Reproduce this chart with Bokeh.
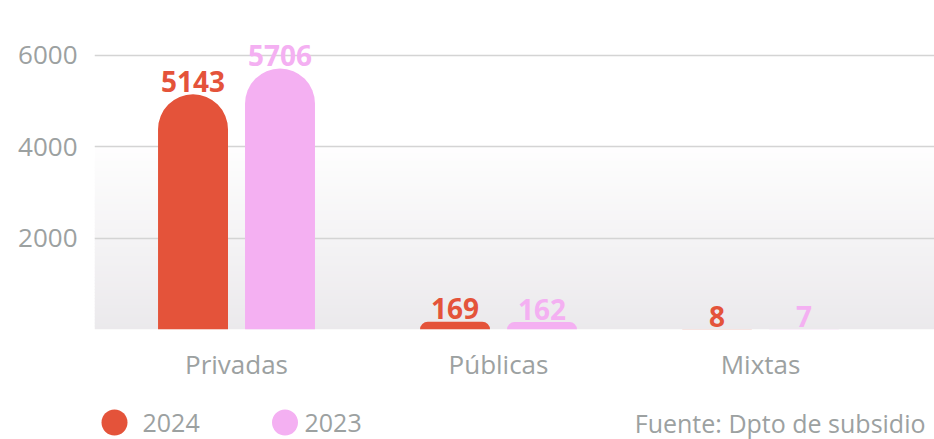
import numpy as np
from bokeh.plotting import figure
from bokeh.models import ColumnDataSource, Range1d, FixedTicker
from bokeh.layouts import column
from bokeh.core.properties import value
from bokeh.embed import file_html
from bokeh.resources import INLINE

# ---- data ----
categories = ["Privadas", "Públicas", "Mixtas"]
series_names = ["2024", "2023"]
values_2024 = [5143, 169, 8]
values_2023 = [5706, 162, 7]
y_ticks = [2000, 4000, 6000]
source_note = "Fuente: Dpto de subsidio"

# ---- style ----
RED = "#e4533a"
PINK = "#f4b0f2"
GRAY = "#9ca1a1"
FONT = "Open Sans"

W = 934
H_MAIN = 390
H_LEG = 49
LEFT = 94

X0, X1 = -0.542, 2.664
Y0, Y1 = 0, 6800
OFF = 0.166
BW = 0.267

idx = np.arange(len(categories))

p = figure(width=W, height=H_MAIN, x_range=Range1d(X0, X1), y_range=Range1d(Y0, Y1),
           output_backend="svg", toolbar_location=None,
           min_border_left=LEFT, min_border_right=0, min_border_top=18, min_border_bottom=61)
p.outline_line_color = None
p.background_fill_color = "white"
p.border_fill_color = "white"

# background gradient (from baseline up to the 4000 line)
n = 60
edges = np.linspace(0, y_ticks[1], n + 1)
c0 = np.array([0xeb, 0xe9, 0xec], dtype=float)
c1 = np.array([0xfe, 0xfe, 0xfe], dtype=float)
grad_colors = ["#%02x%02x%02x" % tuple(np.round(c0 + (c1 - c0) * (i + 0.5) / n).astype(int)) for i in range(n)]
p.quad(left=X0, right=X1, bottom=edges[:-1], top=edges[1:] + (edges[1] - edges[0]) * 0.3,
       fill_color=grad_colors, line_color=None, level="image")

src = ColumnDataSource(dict(
    x24=idx - OFF, x23=idx + OFF,
    v24=values_2024, v23=values_2023,
    t24=[str(v) for v in values_2024], t23=[str(v) for v in values_2023],
))

p.vbar(x="x24", top="v24", bottom=0, width=BW, fill_color=RED, line_color=None,
       border_radius=(35, 35, 0, 0), source=src)
p.vbar(x="x23", top="v23", bottom=0, width=BW, fill_color=PINK, line_color=None,
       border_radius=(35, 35, 0, 0), source=src)

for xcol, vcol, tcol, col in [("x24", "v24", "t24", RED), ("x23", "v23", "t23", PINK)]:
    p.text(x=xcol, y=vcol, text=tcol, source=src, text_align="center", text_baseline="alphabetic",
           y_offset=-13, text_font=value(FONT), text_font_style="bold", text_font_size="28px",
           text_color=col)

# axes
p.yaxis.ticker = FixedTicker(ticks=y_ticks)
p.yaxis.axis_line_color = None
p.yaxis.major_tick_line_color = None
p.yaxis.minor_tick_line_color = None
p.yaxis.major_tick_out = 0
p.yaxis.major_tick_in = 0
p.yaxis.major_label_text_font = FONT
p.yaxis.major_label_text_font_size = "26px"
p.yaxis.major_label_text_color = GRAY
p.yaxis.major_label_standoff = 17

p.xaxis.ticker = FixedTicker(ticks=[int(i) for i in idx])
p.xaxis.major_label_overrides = {int(i): c for i, c in zip(idx, categories)}
p.xaxis.axis_line_color = None
p.xaxis.major_tick_line_color = None
p.xaxis.minor_tick_line_color = None
p.xaxis.major_tick_out = 0
p.xaxis.major_tick_in = 0
p.xaxis.major_label_text_font = FONT
p.xaxis.major_label_text_font_size = "26px"
p.xaxis.major_label_text_color = GRAY
p.xaxis.major_label_standoff = 16

p.xgrid.visible = False
p.ygrid.ticker = FixedTicker(ticks=y_ticks)
p.ygrid.grid_line_color = "#d4d4d4"
p.ygrid.grid_line_width = 1.5

# legend row (its frame is aligned with the chart frame; coordinates are page pixels)
lg = figure(width=W, height=H_LEG, x_range=Range1d(LEFT, W), y_range=Range1d(H_MAIN + H_LEG, H_MAIN),
            output_backend="svg", toolbar_location=None,
            min_border_left=LEFT, min_border_right=0, min_border_top=0, min_border_bottom=0,
            x_axis_location=None, y_axis_location=None)
lg.outline_line_color = None
lg.grid.visible = False
lg.scatter(x=[114, 284.5], y=[422, 422], size=26, color=[RED, PINK], line_color=None)
lg.text(x=[142, 304], y=[422, 422], text=series_names, text_baseline="middle", text_align="left",
        text_font=value(FONT), text_font_size="25px", text_color=GRAY)
lg.text(x=[925], y=[422], text=[source_note], text_baseline="middle", text_align="right",
        text_font=value(FONT), text_font_size="25px", text_color=GRAY)

layout = column(p, lg, spacing=0)
open("out.html", "w").write(file_html(layout, INLINE))
